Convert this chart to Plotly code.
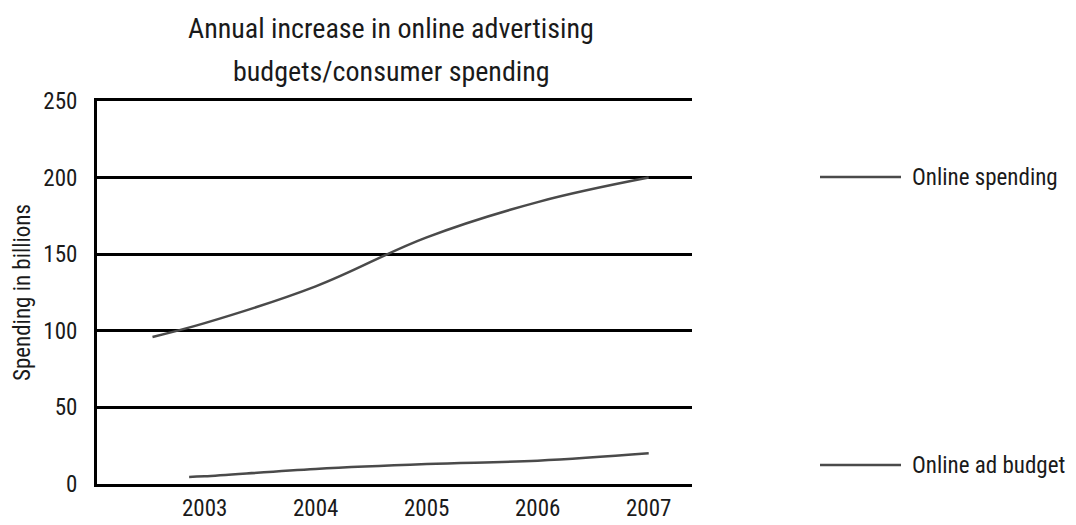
import plotly.graph_objects as go

# Year positions and values (billions)
spending_years = [2002.53, 2003, 2004, 2005, 2006, 2007]
online_spending = [96, 105, 129, 161, 184, 200]

budget_years = [2002.86, 2003, 2004, 2005, 2006, 2007]
online_ad_budget = [4.6, 5, 9.8, 13, 15.2, 20]

tick_years = [2003, 2004, 2005, 2006, 2007]
tick_values = [0, 50, 100, 150, 200, 250]

title_lines = ["Annual increase in online advertising", "budgets/consumer spending"]
legend_labels = ["Online spending", "Online ad budget"]

FONT = "Roboto Condensed, Liberation Sans, sans-serif"
TEXT_COLOR = "#1a1a1a"
LINE_COLOR = "#4a4a4a"

# Plot area in pixels: x 97..692, y 101..484
L, R, T, B = 97, 692, 101, 484
W, H = 1076, 525


def px_x(x):
    return (x - L) / (R - L)


def px_y(y):
    return (B - y) / (B - T)


fig = go.Figure()
for xs, ys, name in [(spending_years, online_spending, legend_labels[0]),
                     (budget_years, online_ad_budget, legend_labels[1])]:
    fig.add_trace(go.Scatter(
        x=xs, y=ys, mode="lines", name=name, showlegend=False,
        line=dict(color=LINE_COLOR, width=2.5, shape="spline", smoothing=1.1),
    ))

fig.update_layout(
    width=W, height=H,
    margin=dict(l=L, r=W - R, t=T, b=H - B),
    paper_bgcolor="white", plot_bgcolor="white",
    font=dict(family=FONT, color=TEXT_COLOR),
    xaxis=dict(
        range=[2002.03, 2007.39], tickvals=tick_years,
        ticktext=[str(y) for y in tick_years],
        showgrid=False, zeroline=False, automargin=False,
        showline=True, mirror=True, linecolor="black", linewidth=3,
        ticks="", ticklabelstandoff=1, tickfont=dict(size=23, family=FONT),
    ),
    yaxis=dict(
        range=[0, 250], tickvals=tick_values,
        showgrid=True, gridcolor="black", gridwidth=3,
        zeroline=False, automargin=False,
        showline=True, linecolor="black", linewidth=3,
        ticks="", ticklabelstandoff=12, tickfont=dict(size=23, family=FONT),
        title=dict(text="Spending in billions", standoff=7,
                   font=dict(size=23, family=FONT)),
    ),
)

# Two-line chart title
for text, ypx in zip(title_lines, [28, 71]):
    fig.add_annotation(
        text=text, showarrow=False, xref="paper", yref="paper",
        x=px_x(391), xanchor="center", y=px_y(ypx), yanchor="middle",
        font=dict(size=28, family=FONT, color=TEXT_COLOR),
    )

# Legend drawn beside the plot
for label, ypx in zip(legend_labels, [177, 465]):
    yp = px_y(ypx)
    fig.add_shape(type="line", xref="paper", yref="paper",
                  x0=px_x(820), x1=px_x(901), y0=yp, y1=yp,
                  line=dict(color=LINE_COLOR, width=2.5))
    fig.add_annotation(
        text=label, showarrow=False, xref="paper", yref="paper",
        x=px_x(910), xanchor="left", y=yp, yanchor="middle",
        font=dict(size=23, family=FONT, color=TEXT_COLOR),
    )

fig.write_html("out.html")
